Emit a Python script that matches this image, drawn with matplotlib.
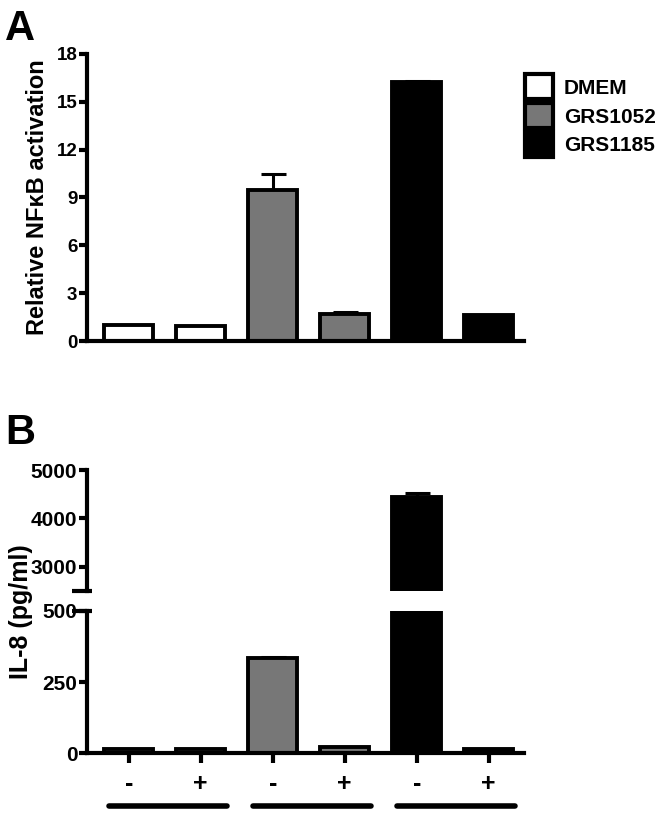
"""NFkB activation and IL-8 secretion bar chart (panels A and B)."""

import matplotlib
matplotlib.use("Agg")
import matplotlib.pyplot as plt
import matplotlib.transforms as mtransforms
from matplotlib.patches import Patch

plt.rcParams["font.family"] = ["Liberation Sans", "DejaVu Sans"]
plt.rcParams["font.weight"] = "bold"

# ── data ──────────────────────────────────────────────────────────────────────
groups = ["DMEM", "GRS1052", "GRS1185"]
treatment = ["-", "+", "-", "+", "-", "+"]
bar_group = [0, 0, 1, 1, 2, 2]

nfkb = [1.0, 0.95, 9.5, 1.72, 16.25, 1.6]
nfkb_err = [0.0, 0.0, 1.0, 0.08, 0.05, 0.05]

il8 = [15, 15, 335, 22, 4450, 14]
il8_err = [0, 0, 4, 0, 70, 0]

A_TICKS = [0, 3, 6, 9, 12, 15, 18]
B_LO_TICKS = [0, 250, 500]
B_HI_TICKS = [3000, 4000, 5000]

# ── style ─────────────────────────────────────────────────────────────────────
FILL = ["#ffffff", "#777777", "#000000"]
LW_AX = 3.0
LW_BAR = 2.8
BAR_W = 0.68
X_LIM = (-0.58, 5.49)

W, H = 664, 813
fig = plt.figure(figsize=(W / 100, H / 100), dpi=100)
fig.patch.set_facecolor("white")


def px_axes(x0, y_top, x1, y_bot):
    return fig.add_axes([x0 / W, 1 - y_bot / H, (x1 - x0) / W, (y_bot - y_top) / H])


def style(ax, tick_size):
    for s in ("top", "right"):
        ax.spines[s].set_visible(False)
    for s in ("left", "bottom"):
        ax.spines[s].set_linewidth(LW_AX)
    ax.tick_params(axis="y", width=LW_AX, length=6, labelsize=tick_size, pad=1)
    ax.set_xlim(*X_LIM)


def bars(ax, vals, errs):
    xs = list(range(len(vals)))
    cols = [FILL[g] for g in bar_group]
    ax.bar(xs, vals, width=BAR_W, color=cols, edgecolor="black",
           linewidth=LW_BAR, zorder=2)
    ax.errorbar(xs, vals, yerr=[[0] * len(errs), errs], fmt="none",
                ecolor="black", elinewidth=2.2, capsize=9, capthick=2.2, zorder=1)


# ── panel A ───────────────────────────────────────────────────────────────────
axA = px_axes(87, 54, 524, 341)
style(axA, 13.5)
bars(axA, nfkb, nfkb_err)
axA.set_ylim(0, 18)
axA.set_yticks(A_TICKS)
axA.set_xticks([])
axA.set_ylabel("Relative NF\u03baB activation", fontsize=17, fontweight="bold",
               labelpad=5)

handles = [Patch(facecolor=FILL[i], edgecolor="black", linewidth=3) for i in range(3)]
fig.legend(handles, groups, loc="upper left", bbox_to_anchor=(517 / W, 1 - 66 / H),
           frameon=False, fontsize=15, handlelength=1.35, handleheight=1.45,
           handletextpad=0.5, labelspacing=0.2, borderaxespad=0)

fig.text(5 / W, 1 - 9 / H, "A", fontsize=30, fontweight="bold", va="top")

# ── panel B (broken y axis) ───────────────────────────────────────────────────
axBh = px_axes(87, 470, 524, 591)
axBl = px_axes(87, 611, 524, 753)
style(axBh, 15)
style(axBl, 15)
bars(axBh, il8, il8_err)
bars(axBl, il8, il8_err)

axBh.set_ylim(2500, 5000)
axBh.set_yticks(B_HI_TICKS)
axBh.spines["bottom"].set_visible(False)
axBh.set_xticks([])

axBl.set_ylim(0, 500)
axBl.set_yticks(B_LO_TICKS)
axBl.set_xticks(range(len(treatment)))
axBl.set_xticklabels(treatment, fontsize=18, fontweight="bold")
axBl.tick_params(axis="x", width=LW_AX, length=7, pad=7)

# break caps on the y axis
for ax, yy in ((axBh, 0), (axBl, 1)):
    ax.plot([-0.035, 0.012], [yy, yy], transform=ax.transAxes, color="black",
            lw=LW_AX, clip_on=False, solid_capstyle="butt")

# group underlines
trans = mtransforms.blended_transform_factory(axBl.transData, axBl.transAxes)
for g in range(len(groups)):
    xs = [i for i, b in enumerate(bar_group) if b == g]
    axBl.plot([xs[0] - 0.27, xs[-1] + 0.36], [-0.37, -0.37], transform=trans,
              color="black", lw=4, clip_on=False, solid_capstyle="round")

fig.text(21 / W, 1 - 612 / H, "IL-8 (pg/ml)", fontsize=18, fontweight="bold",
         rotation=90, ha="center", va="center")
fig.text(5 / W, 1 - 413 / H, "B", fontsize=30, fontweight="bold", va="top")

fig.savefig("out.png", dpi=100, facecolor="white")
plt.close(fig)
